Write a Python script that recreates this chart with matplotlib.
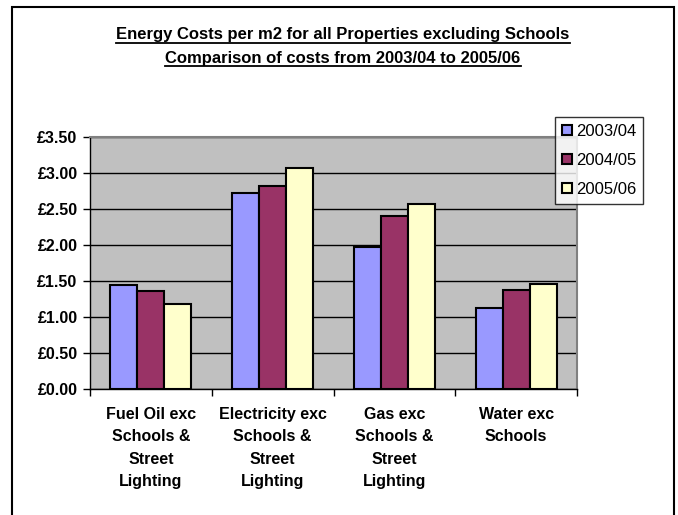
import matplotlib
matplotlib.use('Agg')
import matplotlib.pyplot as plt
from matplotlib.lines import Line2D
from matplotlib.patches import Rectangle
from matplotlib.ticker import FuncFormatter
import numpy as np

plt.rcParams['font.family'] = ['Liberation Sans', 'DejaVu Sans']

# data
categories = ['Fuel Oil exc\nSchools &\nStreet\nLighting',
              'Electricity exc\nSchools &\nStreet\nLighting',
              'Gas exc\nSchools &\nStreet\nLighting',
              'Water exc\nSchools']
years = ['2003/04', '2004/05', '2005/06']
cost_0304 = [1.44, 2.72, 1.97, 1.13]
cost_0405 = [1.36, 2.82, 2.40, 1.38]
cost_0506 = [1.18, 3.07, 2.57, 1.46]
colors = ['#9999FF', '#993366', '#FFFFCC']

title_lines = ['Energy Costs per m2 for all Properties excluding Schools',
               'Comparison of costs from 2003/04 to 2005/06']

W, H = 678, 515
fig = plt.figure(figsize=(W / 100, H / 100), dpi=100)
fig.patch.set_facecolor('white')

# outer chart frame (bottom edge falls outside the picture)
fig.add_artist(Rectangle((12 / W, -0.05), (674 - 12) / W, 1.05 - 7 / H,
                         transform=fig.transFigure, fill=False,
                         edgecolor='black', lw=1.5))

ax = fig.add_axes([90 / W, 1 - 389 / H, (577 - 90) / W, (389 - 137) / H])
ax.set_facecolor('#C0C0C0')

x = np.arange(len(categories))
bw = 0.222
series = [cost_0304, cost_0405, cost_0506]
for i, (vals, lab, c) in enumerate(zip(series, years, colors)):
    ax.bar(x + (i - 1) * bw, vals, bw, color=c, edgecolor='black',
           linewidth=1.5, label=lab, zorder=3)

ax.set_xlim(-0.5, len(categories) - 0.5)
ax.set_ylim(0, 3.5)
ax.set_yticks(np.arange(0, 3.51, 0.5))
ax.yaxis.set_major_formatter(FuncFormatter(lambda v, p: '£%.2f' % v))
ax.yaxis.grid(True, color='black', lw=1, zorder=1)
ax.tick_params(axis='y', direction='out', length=5, width=1,
               labelsize=11.5, pad=4)
for t in ax.get_yticklabels():
    t.set_fontweight('bold')

# category boundaries as major ticks, names on minor ticks
ax.set_xticks(np.arange(-0.5, len(categories), 1.0))
ax.set_xticklabels([])
ax.set_xticks(x, minor=True)
ax.set_xticklabels(categories, minor=True, fontsize=11.5, fontweight='bold',
                   linespacing=1.62)
ax.tick_params(axis='x', which='major', direction='out', length=5, width=1)
ax.tick_params(axis='x', which='minor', length=0, pad=13)

for s in ['top', 'right']:
    ax.spines[s].set_color('#808080')
    ax.spines[s].set_linewidth(1.5)
for s in ['left', 'bottom']:
    ax.spines[s].set_color('black')
    ax.spines[s].set_linewidth(1)

leg = ax.legend(loc='upper left', bbox_to_anchor=(555 / W, 1 - 117 / H),
                bbox_transform=fig.transFigure, fontsize=12, frameon=True,
                fancybox=False, handlelength=0.6, handleheight=0.6,
                handletextpad=0.25, labelspacing=0.85, borderpad=0.4,
                borderaxespad=0)
leg.get_frame().set_edgecolor('black')
leg.get_frame().set_linewidth(1)
leg.set_zorder(10)

# underlined two-line title
renderer = fig.canvas.get_renderer()
for line, base in zip(title_lines, [39.5, 63.0]):
    t = fig.text(343 / W, 1 - base / H, line, ha='center', va='baseline',
                 fontsize=12, fontweight='bold')
    bb = t.get_window_extent(renderer).transformed(fig.transFigure.inverted())
    fig.add_artist(Line2D([bb.x0, bb.x1], [bb.y0, bb.y0],
                          transform=fig.transFigure, color='black', lw=1.3))

fig.savefig('out.png', dpi=100)
